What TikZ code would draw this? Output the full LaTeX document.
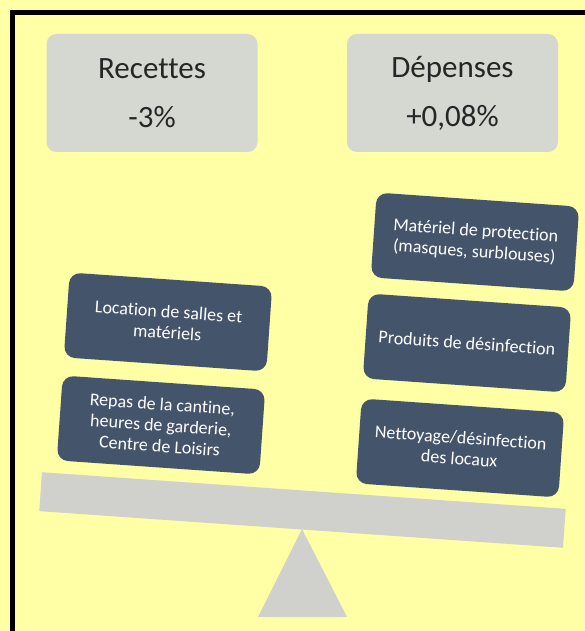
\documentclass[tikz,border=0pt]{standalone}
\usepackage{fontspec}
\setmainfont{Carlito}[Ligatures={NoCommon}]
\definecolor{bgyellow}{RGB}{255,255,166}
\definecolor{headgray}{RGB}{213,215,209}
\definecolor{darkbox}{RGB}{68,84,106}
\definecolor{beamgray}{RGB}{208,208,204}
\definecolor{textdark}{RGB}{38,38,38}
\begin{document}
\begin{tikzpicture}[x=1pt,y=-1pt,
  head/.style={fill=headgray, rounded corners=10pt, minimum width=211pt, minimum height=118pt,
    text=textdark, font=\fontsize{31}{49}\selectfont, align=center, inner sep=0pt},
  item/.style={fill=darkbox, rounded corners=11pt, minimum width=203pt, minimum height=85pt,
    text=white, font=\fontsize{18}{21}\selectfont, align=center, inner sep=0pt, rotate=-4},
  beamstyle/.style={fill=beamgray, minimum width=525pt, minimum height=39pt, inner sep=0pt, rotate=-4}
  ]
\useasboundingbox (0,0) rectangle (585,631);
\clip (0,0) rectangle (585,631);
\fill[bgyellow] (0,0) rectangle (585,631);
\draw[line width=5pt] (12.5,12.5) rectangle (640,690);

\node[head] (rec) at (152,93) {Recettes\\-3\%};
\node[head] (dep) at (452.5,93) {Dépenses\\+0,08\%};

\node[beamstyle] (beam) at (302.5,510) {};
\fill[beamgray] (302,529) -- (347,617) -- (258,617) -- cycle;

\node[item] (loc) at (168,322) {Location de salles et\\matériels};
\node[item] (repas) at (161,425) {Repas de la cantine,\\heures de garderie,\\Centre de Loisirs};
\node[item] (mat) at (475,242) {Matériel de protection\\(masques, surblouses)};
\node[item] (prod) at (467,343) {Produits de désinfection};
\node[item] (net) at (460,448) {Nettoyage/désinfection\\des locaux};
\end{tikzpicture}
\end{document}
